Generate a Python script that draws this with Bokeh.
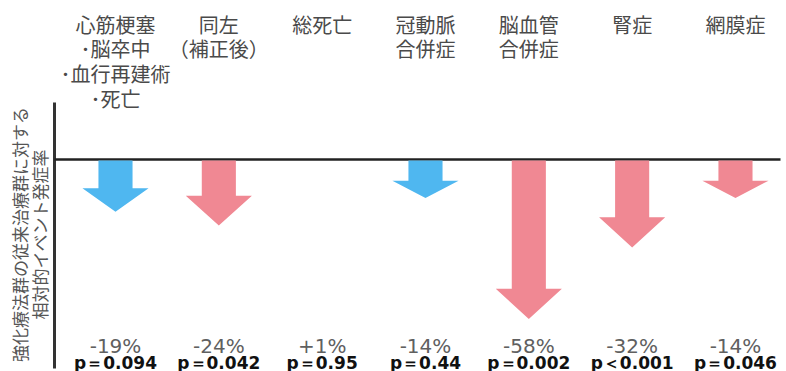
import math
from bokeh.plotting import figure
from bokeh.models import Range1d, ColumnDataSource
from bokeh.core.properties import value
from bokeh.embed import file_html
from bokeh.resources import INLINE

# ---- data ----
categories = [
    "心筋梗塞\n･脳卒中\n･血行再建術\n･死亡",
    "同左\n（補正後）",
    "総死亡",
    "冠動脈\n合併症",
    "脳血管\n合併症",
    "腎症",
    "網膜症",
]
change_pct = [-19, -24, 1, -14, -58, -32, -14]
p_values = ["p＝0.094", "p＝0.042", "p＝0.95", "p＝0.44", "p＝0.002", "p＜0.001", "p＝0.046"]
arrow_colors = ["#4FB7F0", "#F08893", "#F08893", "#4FB7F0", "#F08893", "#F08893", "#F08893"]
y_title = "強化療法群の従来治療群に対する\n相対的イベント発症率"

# ---- layout ----
W, H = 786, 371
PX_PER_CAT = 103.33
PX_PER_PCT = 2.75
ZERO_PX = 159
x_start = -115 / PX_PER_CAT
x_end = x_start + W / PX_PER_CAT
y_top = ZERO_PX / PX_PER_PCT
y_bot = -(H - ZERO_PX) / PX_PER_PCT


def xd(px):
    return x_start + px / PX_PER_CAT


def yd(py):
    return (ZERO_PX - py) / PX_PER_PCT


p = figure(width=W, height=H, output_backend="svg", toolbar_location=None,
           x_range=Range1d(x_start, x_end), y_range=Range1d(y_bot, y_top),
           x_axis_location=None, y_axis_location=None,
           min_border=0)
p.outline_line_color = None
p.grid.visible = False
p.background_fill_color = "white"
p.border_fill_color = "white"

xs_idx = list(range(len(categories)))

# axis line and zero line
p.segment(x0=[xd(54)], y0=[yd(102)], x1=[xd(54)], y1=[yd(368)],
          line_color="#333333", line_width=3)
p.segment(x0=[xd(54)], y0=[0], x1=[xd(780)], y1=[0],
          line_color="#222222", line_width=2.5)

# arrows
shaft_hw = 0.165
head_hw = 0.32
a_xs, a_ys, a_cols = [], [], []
for i, v in enumerate(change_pct):
    if v >= 0:
        continue
    head = min(0.45 * abs(v), 11.0)
    base = v + head
    x = xs_idx[i]
    a_xs.append([x - shaft_hw, x + shaft_hw, x + shaft_hw, x + head_hw, x, x - head_hw, x - shaft_hw])
    a_ys.append([-0.4, -0.4, base, base, v, base, base])
    a_cols.append(arrow_colors[i])
p.patches(xs=a_xs, ys=a_ys, fill_color=a_cols, line_color=None)

# y title (rotated)
p.text(x=[xd(29)], y=[yd(234)], text=[y_title], angle=math.pi / 2,
       text_font=value("Noto Sans CJK JP"), text_font_size="17px",
       text_color="#555555", text_align="center", text_baseline="middle",
       text_line_height=0.78)

# top category labels
top_src = ColumnDataSource(dict(x=xs_idx, y=[yd(9)] * len(xs_idx), t=categories))
p.text(x="x", y="y", text="t", source=top_src, text_font=value("Noto Sans CJK JP"),
       text_font_size="20px", text_color="#4a4a4a", text_align="center",
       text_baseline="top", text_line_height=0.86)

# percent labels
pct_src = ColumnDataSource(dict(x=xs_idx, y=[yd(345)] * len(xs_idx),
                                t=[f"{v:+d}%" for v in change_pct]))
p.text(x="x", y="y", text="t", source=pct_src, text_font=value("DejaVu Sans"),
       text_font_size="20px", text_color="#606060", text_align="center",
       text_baseline="middle")

# p-value labels
pv_src = ColumnDataSource(dict(x=xs_idx, y=[yd(362)] * len(xs_idx), t=p_values))
p.text(x="x", y="y", text="t", source=pv_src, text_font=value("DejaVu Sans"),
       text_font_size="17px", text_font_style="bold", text_color="#111111",
       text_align="center", text_baseline="middle")

open("out.html", "w").write(file_html(p, INLINE))
